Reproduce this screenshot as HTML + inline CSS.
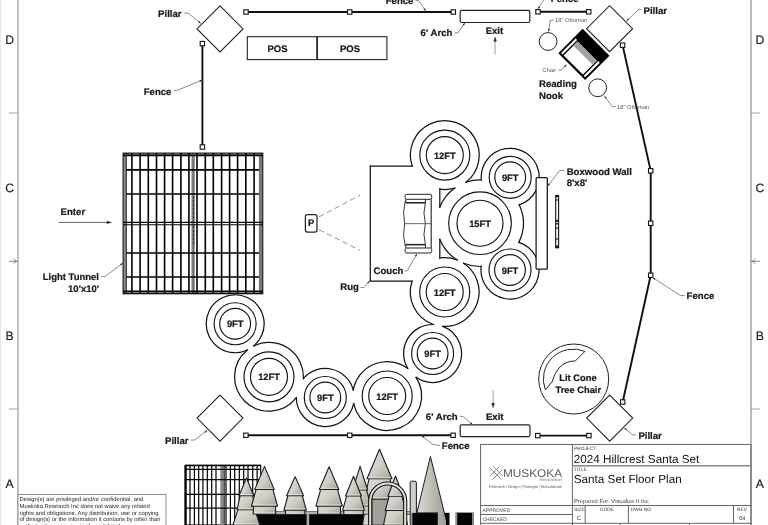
<!DOCTYPE html><html><head><meta charset="utf-8"><style>html,body{margin:0;padding:0;background:#fff;}svg{display:block;will-change:transform;}text{font-family:"Liberation Sans",sans-serif;text-rendering:geometricPrecision;}</style></head><body>
<svg width="768" height="525" viewBox="0 0 768 525">
<rect x="0" y="0" width="768" height="525" fill="#fff"/>
<rect x="0" y="0" width="1" height="525" fill="#e8e8e8"/>
<line x1="18" y1="0" x2="18" y2="525" stroke="#9a9a9a" stroke-width="1.2" />
<line x1="751" y1="0" x2="751" y2="525" stroke="#aaaaaa" stroke-width="1.6" />
<line x1="9" y1="113" x2="18" y2="113" stroke="#999" stroke-width="0.9" />
<line x1="751" y1="113" x2="760" y2="113" stroke="#999" stroke-width="0.9" />
<line x1="9" y1="409" x2="18" y2="409" stroke="#999" stroke-width="0.9" />
<line x1="751" y1="409" x2="760" y2="409" stroke="#999" stroke-width="0.9" />
<path d="M9,261.3 L18,261.3 M13.5,258.8 L16.5,261.3 L13.5,263.8" fill="none" stroke="#666" stroke-width="0.8"/>
<path d="M760,261.3 L751,261.3 M755.5,258.8 L752.5,261.3 L755.5,263.8" fill="none" stroke="#666" stroke-width="0.8"/>
<text x="9.6" y="43.75" font-size="12.2" font-weight="normal" text-anchor="middle" fill="#1a1a1a" stroke="#1a1a1a" stroke-width="0.15">D</text>
<text x="759.8" y="43.75" font-size="12.2" font-weight="normal" text-anchor="middle" fill="#1a1a1a" stroke="#1a1a1a" stroke-width="0.15">D</text>
<text x="9.6" y="191.75" font-size="12.2" font-weight="normal" text-anchor="middle" fill="#1a1a1a" stroke="#1a1a1a" stroke-width="0.15">C</text>
<text x="759.8" y="191.75" font-size="12.2" font-weight="normal" text-anchor="middle" fill="#1a1a1a" stroke="#1a1a1a" stroke-width="0.15">C</text>
<text x="9.6" y="339.75" font-size="12.2" font-weight="normal" text-anchor="middle" fill="#1a1a1a" stroke="#1a1a1a" stroke-width="0.15">B</text>
<text x="759.8" y="339.75" font-size="12.2" font-weight="normal" text-anchor="middle" fill="#1a1a1a" stroke="#1a1a1a" stroke-width="0.15">B</text>
<text x="9.6" y="487.75" font-size="12.2" font-weight="normal" text-anchor="middle" fill="#1a1a1a" stroke="#1a1a1a" stroke-width="0.15">A</text>
<text x="759.8" y="487.75" font-size="12.2" font-weight="normal" text-anchor="middle" fill="#1a1a1a" stroke="#1a1a1a" stroke-width="0.15">A</text>
<g stroke="#141414" stroke-width="1.24" fill="none" stroke-linecap="square">
<path d="M454.73,188.04 A34.4,34.4 0 0 1 439.79,189.13"/>
<path d="M412.20,166.09 A34.4,34.4 0 1 1 465.92,182.25"/>
<path d="M433.46,324.51 A34.4,34.4 0 0 1 412.04,281.21"/>
<path d="M439.81,257.95 A34.4,34.4 0 0 1 456.96,259.86"/>
<path d="M463.67,263.31 A34.4,34.4 0 0 1 442.79,326.35"/>
<path d="M481.23,266.48 A43.3,43.3 0 0 1 463.66,263.30"/>
<path d="M456.94,259.85 A43.3,43.3 0 0 1 439.80,239.30"/>
<path d="M439.80,207.10 A43.3,43.3 0 0 1 454.75,188.03"/>
<path d="M465.92,182.25 A43.3,43.3 0 0 1 481.30,179.92"/>
<path d="M519.22,204.85 A43.3,43.3 0 0 1 518.83,242.37"/>
<path d="M481.32,179.92 A29,29 0 1 1 519.22,204.86"/>
<path d="M518.83,242.38 A29,29 0 1 1 481.21,266.48"/>
<path d="M247.37,350.05 A29,29 0 1 1 253.86,345.91"/>
<path d="M296.30,397.73 A34.4,34.4 0 1 1 247.36,350.06"/>
<path d="M253.85,345.91 A34.4,34.4 0 0 1 303.36,378.56"/>
<path d="M353.65,403.59 A29,29 0 0 1 296.30,397.74"/>
<path d="M303.36,378.54 A29,29 0 0 1 353.32,390.03"/>
<path d="M353.32,390.04 A34.4,34.4 0 0 1 407.72,368.39"/>
<path d="M416.11,377.35 A34.4,34.4 0 1 1 353.65,403.61"/>
<path d="M407.71,368.38 A29,29 0 0 1 433.47,324.51"/>
<path d="M442.79,326.35 A29,29 0 1 1 416.10,377.35"/>
<line x1="370.30" y1="166.10" x2="412.21" y2="166.10"/>
<line x1="439.80" y1="189.18" x2="439.80" y2="207.13"/>
<line x1="439.80" y1="239.30" x2="439.80" y2="258.01"/>
<line x1="412.03" y1="281.20" x2="370.30" y2="281.20"/>
<line x1="370.30" y1="281.20" x2="370.30" y2="166.10"/>
</g>
<g stroke="#141414" stroke-width="1.15" fill="none">
<circle cx="444.8" cy="155.1" r="25.0"/>
<circle cx="444.8" cy="155.1" r="18.5"/>
<circle cx="444.7" cy="292.0" r="25.0"/>
<circle cx="444.7" cy="292.0" r="18.5"/>
<circle cx="480.0" cy="223.2" r="31.3"/>
<circle cx="480.0" cy="223.2" r="23"/>
<circle cx="510.2" cy="177.3" r="21"/>
<circle cx="510.2" cy="177.3" r="15.4"/>
<circle cx="510.0" cy="270.0" r="21"/>
<circle cx="510.0" cy="270.0" r="15.4"/>
<circle cx="235.15" cy="323.75" r="21"/>
<circle cx="235.15" cy="323.75" r="15.4"/>
<circle cx="269.0" cy="376.8" r="25.0"/>
<circle cx="269.0" cy="376.8" r="18.5"/>
<circle cx="325.3" cy="397.5" r="21"/>
<circle cx="325.3" cy="397.5" r="15.4"/>
<circle cx="387.2" cy="396.0" r="25.0"/>
<circle cx="387.2" cy="396.0" r="18.5"/>
<circle cx="432.6" cy="353.5" r="21"/>
<circle cx="432.6" cy="353.5" r="15.4"/>
</g>
<text x="444.8" y="158.6" font-size="9.3" font-weight="bold" text-anchor="middle" fill="#1a1a1a"  stroke="#1a1a1a" stroke-width="0.22">12FT</text>
<text x="444.7" y="295.5" font-size="9.3" font-weight="bold" text-anchor="middle" fill="#1a1a1a"  stroke="#1a1a1a" stroke-width="0.22">12FT</text>
<text x="480.0" y="226.7" font-size="9.3" font-weight="bold" text-anchor="middle" fill="#1a1a1a"  stroke="#1a1a1a" stroke-width="0.22">15FT</text>
<text x="510.2" y="180.8" font-size="9.3" font-weight="bold" text-anchor="middle" fill="#1a1a1a"  stroke="#1a1a1a" stroke-width="0.22">9FT</text>
<text x="510.0" y="273.5" font-size="9.3" font-weight="bold" text-anchor="middle" fill="#1a1a1a"  stroke="#1a1a1a" stroke-width="0.22">9FT</text>
<text x="235.15" y="327.25" font-size="9.3" font-weight="bold" text-anchor="middle" fill="#1a1a1a"  stroke="#1a1a1a" stroke-width="0.22">9FT</text>
<text x="269.0" y="380.3" font-size="9.3" font-weight="bold" text-anchor="middle" fill="#1a1a1a"  stroke="#1a1a1a" stroke-width="0.22">12FT</text>
<text x="325.3" y="401.0" font-size="9.3" font-weight="bold" text-anchor="middle" fill="#1a1a1a"  stroke="#1a1a1a" stroke-width="0.22">9FT</text>
<text x="387.2" y="399.5" font-size="9.3" font-weight="bold" text-anchor="middle" fill="#1a1a1a"  stroke="#1a1a1a" stroke-width="0.22">12FT</text>
<text x="432.6" y="357.0" font-size="9.3" font-weight="bold" text-anchor="middle" fill="#1a1a1a"  stroke="#1a1a1a" stroke-width="0.22">9FT</text>
<g fill="none" stroke="#222" stroke-width="1">
<rect x="405.1" y="194.3" width="26.6" height="5" rx="1.6" fill="#fff"/>
<path d="M405.8,199.3 L405.8,202.7 L425.4,202.7 L425.4,199.3" stroke-width="1"/>
<line x1="405.8" y1="202.7" x2="425.4" y2="202.7" stroke-width="1.4"/>
<rect x="405.1" y="248.0" width="26.6" height="5" rx="1.6" fill="#fff"/>
<path d="M405.8,248.0 L405.8,244.60000000000002 L425.4,244.60000000000002 L425.4,248.0" stroke-width="1"/>
<line x1="405.8" y1="244.60000000000002" x2="425.4" y2="244.60000000000002" stroke-width="1.4"/>
<line x1="431.2" y1="199.3" x2="431.2" y2="248.0" stroke-width="1.1"/>
<path d="M425.4,202.7 Q422.5,213 425.4,223.65 Q422.5,234.3 425.4,244.60000000000002" stroke-width="0.9"/>
<path d="M405.3,201 Q402.2,212 404.6,223.65 Q402.2,235.3 405.3,246.3" stroke-width="0.9"/>
<line x1="404.2" y1="223.65" x2="431" y2="223.65" stroke-width="0.8" stroke="#444"/>
</g>
<rect x="536.1" y="177.5" width="11.2" height="91.7" rx="1" fill="#fff" stroke="#151515" stroke-width="1.25"/>
<rect x="555.7" y="195.6" width="2.9" height="52.2" fill="#fff" stroke="#111" stroke-width="1.1"/>
<rect x="555.7" y="195.6" width="2.9" height="1.5999999999999943" fill="#111"/>
<rect x="555.7" y="199.5" width="2.9" height="1.0" fill="#111"/>
<rect x="555.7" y="219.8" width="2.9" height="2.0" fill="#111"/>
<rect x="555.7" y="223.2" width="2.9" height="1.200000000000017" fill="#111"/>
<rect x="555.7" y="227.5" width="2.9" height="1.0" fill="#111"/>
<rect x="555.7" y="238.5" width="2.9" height="1.0" fill="#111"/>
<rect x="555.7" y="245.5" width="2.9" height="2.3000000000000114" fill="#111"/>
<rect x="305.4" y="214.6" width="11.6" height="17.4" rx="2" fill="#fff" stroke="#222" stroke-width="1.25"/>
<text x="311.2" y="226.0" font-size="9.4" font-weight="bold" text-anchor="middle" fill="#1a1a1a"  stroke="#1a1a1a" stroke-width="0.22">P</text>
<path d="M319,216.9 L360.3,195 M319,229.7 L360.3,250.5" stroke="#8a8a8a" stroke-width="0.95" stroke-dasharray="5.5,3.3" fill="none"/>
<g>
<rect x="123.1" y="153.1" width="139.70000000000002" height="140.70000000000002" fill="#fff"/>
<rect x="123.3" y="153.1" width="3.0" height="140.70000000000002" fill="#8c8c8c"/>
<rect x="259.2" y="153.1" width="3.3" height="140.70000000000002" fill="#7a7a7a"/>
<rect x="191.4" y="153.1" width="3.5" height="140.70000000000002" fill="#8f8f8f"/>
<line x1="193.15" y1="153.1" x2="193.15" y2="293.8" stroke="#5a5a5a" stroke-width="0.8"/>
<rect x="123.1" y="153.4" width="139.70000000000002" height="2.4" fill="#555"/>
<line x1="131.9" y1="153.1" x2="131.9" y2="293.8" stroke="#000" stroke-width="1.6" />
<line x1="140.1" y1="153.1" x2="140.1" y2="293.8" stroke="#000" stroke-width="1.6" />
<line x1="148.3" y1="153.1" x2="148.3" y2="293.8" stroke="#000" stroke-width="1.6" />
<line x1="156.5" y1="153.1" x2="156.5" y2="293.8" stroke="#000" stroke-width="1.6" />
<line x1="164.6" y1="153.1" x2="164.6" y2="293.8" stroke="#000" stroke-width="1.6" />
<line x1="172.6" y1="153.1" x2="172.6" y2="293.8" stroke="#000" stroke-width="1.6" />
<line x1="180.9" y1="153.1" x2="180.9" y2="293.8" stroke="#000" stroke-width="1.6" />
<line x1="188.9" y1="153.1" x2="188.9" y2="293.8" stroke="#000" stroke-width="1.6" />
<line x1="197" y1="153.1" x2="197" y2="293.8" stroke="#000" stroke-width="1.6" />
<line x1="205.3" y1="153.1" x2="205.3" y2="293.8" stroke="#000" stroke-width="1.6" />
<line x1="213.3" y1="153.1" x2="213.3" y2="293.8" stroke="#000" stroke-width="1.6" />
<line x1="221.6" y1="153.1" x2="221.6" y2="293.8" stroke="#000" stroke-width="1.6" />
<line x1="229.6" y1="153.1" x2="229.6" y2="293.8" stroke="#000" stroke-width="1.6" />
<line x1="237.6" y1="153.1" x2="237.6" y2="293.8" stroke="#000" stroke-width="1.6" />
<line x1="245.8" y1="153.1" x2="245.8" y2="293.8" stroke="#000" stroke-width="1.6" />
<line x1="254.1" y1="153.1" x2="254.1" y2="293.8" stroke="#000" stroke-width="1.6" />
<line x1="126.3" y1="169.9" x2="259.2" y2="169.9" stroke="#000" stroke-width="1.6" />
<line x1="126.3" y1="194.0" x2="259.2" y2="194.0" stroke="#000" stroke-width="1.6" />
<line x1="126.3" y1="253.0" x2="259.2" y2="253.0" stroke="#000" stroke-width="1.6" />
<line x1="126.3" y1="277.0" x2="259.2" y2="277.0" stroke="#000" stroke-width="1.6" />
<line x1="123.1" y1="222.4" x2="262.8" y2="222.4" stroke="#000" stroke-width="1.1" />
<line x1="123.1" y1="224.8" x2="262.8" y2="224.8" stroke="#000" stroke-width="1.1" />
<line x1="123.1" y1="291.2" x2="262.8" y2="291.2" stroke="#000" stroke-width="1.4" />
<line x1="123.1" y1="293.2" x2="262.8" y2="293.2" stroke="#000" stroke-width="1.2" />
<line x1="123.1" y1="155.6" x2="262.8" y2="155.6" stroke="#000" stroke-width="1.4" />
<line x1="126.3" y1="153.1" x2="126.3" y2="293.8" stroke="#111" stroke-width="0.9" />
<line x1="259.3" y1="153.1" x2="259.3" y2="293.8" stroke="#555" stroke-width="0.6" />
<rect x="123.1" y="153.1" width="139.70000000000002" height="140.70000000000002" fill="none" stroke="#000" stroke-width="1"/>
<path d="M193.6,196 L193.6,221 M193.6,226 L193.6,246" stroke="#222" stroke-width="0.9" stroke-dasharray="2.5,1.5"/>
</g>
<path d="M246,12 L349.7,12 L453.3,12" fill="none" stroke="#111" stroke-width="1.9"/>
<rect x="243.8" y="9.8" width="4.4" height="4.4" fill="#fff" stroke="#111" stroke-width="1.1"/>
<rect x="347.5" y="9.8" width="4.4" height="4.4" fill="#fff" stroke="#111" stroke-width="1.1"/>
<rect x="451.1" y="9.8" width="4.4" height="4.4" fill="#fff" stroke="#111" stroke-width="1.1"/>
<path d="M538,11.8 L588.7,11.8" fill="none" stroke="#111" stroke-width="1.9"/>
<rect x="535.8" y="9.600000000000001" width="4.4" height="4.4" fill="#fff" stroke="#111" stroke-width="1.1"/>
<rect x="586.5" y="9.600000000000001" width="4.4" height="4.4" fill="#fff" stroke="#111" stroke-width="1.1"/>
<path d="M202.4,43.6 L202.4,147" fill="none" stroke="#111" stroke-width="1.9"/>
<rect x="200.20000000000002" y="41.4" width="4.4" height="4.4" fill="#fff" stroke="#111" stroke-width="1.1"/>
<rect x="200.20000000000002" y="144.8" width="4.4" height="4.4" fill="#fff" stroke="#111" stroke-width="1.1"/>
<path d="M622.6,45.2 L650.7,170.8 L650.7,275.3 L622.7,402" fill="none" stroke="#111" stroke-width="1.9"/>
<rect x="620.4" y="43.0" width="4.4" height="4.4" fill="#fff" stroke="#111" stroke-width="1.1"/>
<rect x="648.5" y="168.60000000000002" width="4.4" height="4.4" fill="#fff" stroke="#111" stroke-width="1.1"/>
<rect x="648.5" y="221.10000000000002" width="4.4" height="4.4" fill="#fff" stroke="#111" stroke-width="1.1"/>
<rect x="648.5" y="273.1" width="4.4" height="4.4" fill="#fff" stroke="#111" stroke-width="1.1"/>
<rect x="620.5" y="399.8" width="4.4" height="4.4" fill="#fff" stroke="#111" stroke-width="1.1"/>
<path d="M245.9,435.3 L349.7,435.3 L453.1,435.3" fill="none" stroke="#111" stroke-width="1.9"/>
<rect x="243.70000000000002" y="433.1" width="4.4" height="4.4" fill="#fff" stroke="#111" stroke-width="1.1"/>
<rect x="347.5" y="433.1" width="4.4" height="4.4" fill="#fff" stroke="#111" stroke-width="1.1"/>
<rect x="450.90000000000003" y="433.1" width="4.4" height="4.4" fill="#fff" stroke="#111" stroke-width="1.1"/>
<path d="M537.8,435.6 L588.9,435.6" fill="none" stroke="#111" stroke-width="1.9"/>
<rect x="535.5999999999999" y="433.40000000000003" width="4.4" height="4.4" fill="#fff" stroke="#111" stroke-width="1.1"/>
<rect x="586.6999999999999" y="433.40000000000003" width="4.4" height="4.4" fill="#fff" stroke="#111" stroke-width="1.1"/>
<path d="M220,5.899999999999999 L243,28.9 L220,51.9 L197,28.9 Z" fill="#fff" stroke="#262626" stroke-width="1.1"/>
<path d="M609.6,5.699999999999999 L632.6,28.7 L609.6,51.7 L586.6,28.7 Z" fill="#fff" stroke="#262626" stroke-width="1.1"/>
<path d="M220,395.1 L243,418.1 L220,441.1 L197,418.1 Z" fill="#fff" stroke="#262626" stroke-width="1.1"/>
<path d="M609.7,395.1 L632.7,418.1 L609.7,441.1 L586.7,418.1 Z" fill="#fff" stroke="#262626" stroke-width="1.1"/>
<rect x="247.3" y="36.7" width="139.6" height="22.9" fill="#fff" stroke="#222" stroke-width="1.1"/>
<line x1="317.1" y1="36.7" x2="317.1" y2="59.6" stroke="#111" stroke-width="1.6" />
<text x="277.5" y="52" font-size="9.5" font-weight="bold" text-anchor="middle" fill="#1a1a1a"  stroke="#1a1a1a" stroke-width="0.22">POS</text>
<text x="350" y="52" font-size="9.5" font-weight="bold" text-anchor="middle" fill="#1a1a1a"  stroke="#1a1a1a" stroke-width="0.22">POS</text>
<rect x="460.2" y="10.3" width="69.6" height="12.2" rx="1.5" fill="#fff" stroke="#222" stroke-width="1.2"/>
<rect x="460.2" y="424.8" width="69.8" height="11.8" rx="1.5" fill="#fff" stroke="#222" stroke-width="1.2"/>
<line x1="495.1" y1="54.5" x2="495.1" y2="40" stroke="#b0b0b0" stroke-width="1.2"/>
<path d="M493.8,41.2 L495.1,37.2 L496.4,41.2 Z" fill="#222" stroke="#222" stroke-width="0.5"/>
<line x1="493.1" y1="390" x2="493.1" y2="404" stroke="#b0b0b0" stroke-width="1.2"/>
<path d="M491.8,403.2 L493.1,407.5 L494.4,403.2 Z" fill="#222" stroke="#222" stroke-width="0.5"/>
<line x1="58.6" y1="222.4" x2="108" y2="222.4" stroke="#333" stroke-width="0.75"/>
<path d="M107,221.3 L111.3,222.4 L107,223.5 Z" fill="#111" stroke="#111" stroke-width="0.4"/>
<circle cx="548.1" cy="41.5" r="8.9" fill="#fff" stroke="#222" stroke-width="1"/>
<circle cx="597.7" cy="87.8" r="8.9" fill="#fff" stroke="#222" stroke-width="1"/>
<defs><pattern id="hatch" width="1.3" height="1.3" patternUnits="userSpaceOnUse"><rect width="1.3" height="1.3" fill="#c8c8c8"/><rect width="0.65" height="0.65" fill="#555"/><rect x="0.65" y="0.65" width="0.65" height="0.65" fill="#555"/></pattern></defs>
<g transform="translate(583.9,54.4) rotate(45)">
<rect x="-19" y="-17.2" width="38" height="34.4" fill="#000"/>
<rect x="-13.6" y="-4.6" width="27.2" height="19.6" fill="#fff"/>
<rect x="-13.6" y="-4.6" width="27.2" height="5.8" fill="#a2a2a2"/>
<rect x="-17.1" y="-5.4" width="2.2" height="20.6" fill="#fff"/>
<rect x="14.9" y="-5.4" width="2.2" height="20.6" fill="#fff"/>
</g>
<circle cx="573.7" cy="379" r="35" fill="#fff" stroke="#222" stroke-width="1"/>
<path d="M545.4,390 A30,30 0 0 1 584.9,351.4 L575.4,360.9 Q565,361 559,368 Q553.5,375 552.3,381.4 Z" fill="#fff" stroke="#222" stroke-width="1"/>
<text x="578" y="381.1" font-size="9.4" font-weight="bold" text-anchor="middle" fill="#1a1a1a"  stroke="#1a1a1a" stroke-width="0.22">Lit Cone</text>
<text x="578.3" y="392.6" font-size="9.3" font-weight="bold" text-anchor="middle" fill="#1a1a1a"  stroke="#1a1a1a" stroke-width="0.22">Tree Chair</text>
<text x="158.1" y="16.9" font-size="9.6" font-weight="bold" text-anchor="start" fill="#1a1a1a"  stroke="#1a1a1a" stroke-width="0.22">Pillar</text>
<path d="M184.1,13 L188,13 L200.8,23.4" fill="none" stroke="#777" stroke-width="0.85" stroke-linejoin="round"/>
<path d="M200.80,23.40 L198.06,22.33 L199.19,20.94 Z" fill="#222"/>
<text x="385.7" y="4.4" font-size="9.6" font-weight="bold" text-anchor="start" fill="#1a1a1a"  stroke="#1a1a1a" stroke-width="0.22">Fence</text>
<path d="M415.4,0.5 L418.5,0.5 L425.8,11" fill="none" stroke="#777" stroke-width="0.85" stroke-linejoin="round"/>
<path d="M425.80,11.00 L423.46,9.21 L424.94,8.19 Z" fill="#222"/>
<text x="420.6" y="35.9" font-size="9.6" font-weight="bold" text-anchor="start" fill="#1a1a1a"  stroke="#1a1a1a" stroke-width="0.22">6' Arch</text>
<path d="M454.5,32.8 L458,32.8 L465,22.6" fill="none" stroke="#777" stroke-width="0.85" stroke-linejoin="round"/>
<path d="M465.00,22.60 L464.16,25.42 L462.67,24.40 Z" fill="#222"/>
<text x="494.4" y="33.7" font-size="9.5" font-weight="bold" text-anchor="middle" fill="#1a1a1a"  stroke="#1a1a1a" stroke-width="0.22">Exit</text>
<text x="550.8" y="2.4" font-size="9.6" font-weight="bold" text-anchor="start" fill="#1a1a1a"  stroke="#1a1a1a" stroke-width="0.22">Fence</text>
<path d="M544.3,-1 L537.9,9" fill="none" stroke="#777" stroke-width="0.85" stroke-linejoin="round"/>
<path d="M537.90,9.00 L538.65,6.16 L540.17,7.13 Z" fill="#222"/>
<text x="643.5" y="13.5" font-size="9.6" font-weight="bold" text-anchor="start" fill="#1a1a1a"  stroke="#1a1a1a" stroke-width="0.22">Pillar</text>
<path d="M641.3,9.5 L638.6,9.5 L626.4,21.1" fill="none" stroke="#777" stroke-width="0.85" stroke-linejoin="round"/>
<path d="M626.40,21.10 L627.81,18.52 L629.05,19.82 Z" fill="#222"/>
<text x="143.7" y="94.7" font-size="9.6" font-weight="bold" text-anchor="start" fill="#1a1a1a"  stroke="#1a1a1a" stroke-width="0.22">Fence</text>
<path d="M173.8,90.5 L176.7,90.5 L202.4,80" fill="none" stroke="#777" stroke-width="0.85" stroke-linejoin="round"/>
<path d="M202.40,80.00 L200.15,81.89 L199.47,80.23 Z" fill="#222"/>
<text x="60.6" y="215.4" font-size="9.6" font-weight="bold" text-anchor="start" fill="#1a1a1a"  stroke="#1a1a1a" stroke-width="0.22">Enter</text>
<text x="99" y="279.6" font-size="9.5" font-weight="bold" text-anchor="end" fill="#1a1a1a"  stroke="#1a1a1a" stroke-width="0.22">Light Tunnel</text>
<text x="99" y="291.8" font-size="9.5" font-weight="bold" text-anchor="end" fill="#1a1a1a"  stroke="#1a1a1a" stroke-width="0.22">10'x10'</text>
<path d="M101,276.6 L105,276.6 L123,263" fill="none" stroke="#777" stroke-width="0.85" stroke-linejoin="round"/>
<path d="M123.00,263.00 L121.31,265.41 L120.22,263.97 Z" fill="#222"/>
<text x="340.3" y="289.5" font-size="9.6" font-weight="bold" text-anchor="start" fill="#1a1a1a"  stroke="#1a1a1a" stroke-width="0.22">Rug</text>
<path d="M360.3,287.5 L364,287.5 L369.7,280.9" fill="none" stroke="#777" stroke-width="0.85" stroke-linejoin="round"/>
<path d="M369.70,280.90 L368.55,283.61 L367.19,282.43 Z" fill="#222"/>
<text x="373.5" y="273.7" font-size="9.6" font-weight="bold" text-anchor="start" fill="#1a1a1a"  stroke="#1a1a1a" stroke-width="0.22">Couch</text>
<path d="M404.5,271 L407,271 L417,253.7" fill="none" stroke="#777" stroke-width="0.85" stroke-linejoin="round"/>
<path d="M417.00,253.70 L416.38,256.57 L414.82,255.67 Z" fill="#222"/>
<text x="566.7" y="174.6" font-size="9.6" font-weight="bold" text-anchor="start" fill="#1a1a1a"  stroke="#1a1a1a" stroke-width="0.22">Boxwood Wall</text>
<text x="566.7" y="186.4" font-size="9.6" font-weight="bold" text-anchor="start" fill="#1a1a1a"  stroke="#1a1a1a" stroke-width="0.22">8'x8'</text>
<path d="M564.6,170.4 L559.7,170.4 L547.8,186" fill="none" stroke="#777" stroke-width="0.85" stroke-linejoin="round"/>
<path d="M547.80,186.00 L548.78,183.23 L550.21,184.32 Z" fill="#222"/>
<text x="539" y="87.3" font-size="9.6" font-weight="bold" text-anchor="start" fill="#1a1a1a"  stroke="#1a1a1a" stroke-width="0.22">Reading</text>
<text x="539" y="98.8" font-size="9.6" font-weight="bold" text-anchor="start" fill="#1a1a1a"  stroke="#1a1a1a" stroke-width="0.22">Nook</text>
<text x="542.3" y="71.9" font-size="5.8" font-weight="normal" text-anchor="start" fill="#555" >Chair</text>
<path d="M558.3,70.2 L561,70.2 L566.6,64.7" fill="none" stroke="#777" stroke-width="0.85" stroke-linejoin="round"/>
<path d="M566.60,64.70 L565.23,67.30 L563.97,66.02 Z" fill="#222"/>
<text x="555" y="22.1" font-size="5.8" font-weight="normal" text-anchor="start" fill="#555" >18" Ottoman</text>
<path d="M553.8,20.2 L550.2,20.4 L548.6,31.6" fill="none" stroke="#777" stroke-width="0.85" stroke-linejoin="round"/>
<path d="M548.60,31.60 L548.11,28.70 L549.89,28.96 Z" fill="#222"/>
<text x="617" y="108.5" font-size="5.8" font-weight="normal" text-anchor="start" fill="#555" >18" Ottoman</text>
<path d="M616,106.6 L612.2,106.6 L604.4,95.9" fill="none" stroke="#777" stroke-width="0.85" stroke-linejoin="round"/>
<path d="M604.40,95.90 L606.78,97.63 L605.32,98.69 Z" fill="#222"/>
<text x="686.6" y="299.3" font-size="9.6" font-weight="bold" text-anchor="start" fill="#1a1a1a"  stroke="#1a1a1a" stroke-width="0.22">Fence</text>
<path d="M684.5,295.5 L680.5,295.5 L652.5,277.5" fill="none" stroke="#777" stroke-width="0.85" stroke-linejoin="round"/>
<path d="M652.50,277.50 L655.34,278.26 L654.37,279.77 Z" fill="#222"/>
<text x="638.4" y="438.6" font-size="9.6" font-weight="bold" text-anchor="start" fill="#1a1a1a"  stroke="#1a1a1a" stroke-width="0.22">Pillar</text>
<path d="M636,434.8 L632.6,434.8 L624.2,427.9" fill="none" stroke="#777" stroke-width="0.85" stroke-linejoin="round"/>
<path d="M624.20,427.90 L626.93,428.98 L625.79,430.37 Z" fill="#222"/>
<text x="165" y="444.1" font-size="9.6" font-weight="bold" text-anchor="start" fill="#1a1a1a"  stroke="#1a1a1a" stroke-width="0.22">Pillar</text>
<path d="M190.9,440 L194.8,440 L207.3,430.3" fill="none" stroke="#777" stroke-width="0.85" stroke-linejoin="round"/>
<path d="M207.30,430.30 L205.64,432.73 L204.54,431.31 Z" fill="#222"/>
<text x="425.8" y="419.9" font-size="9.6" font-weight="bold" text-anchor="start" fill="#1a1a1a"  stroke="#1a1a1a" stroke-width="0.22">6' Arch</text>
<path d="M459.8,416.4 L463.3,416.4 L472.7,424.8" fill="none" stroke="#777" stroke-width="0.85" stroke-linejoin="round"/>
<path d="M472.70,424.80 L470.01,423.61 L471.21,422.26 Z" fill="#222"/>
<text x="485.9" y="420" font-size="9.6" font-weight="bold" text-anchor="start" fill="#1a1a1a"  stroke="#1a1a1a" stroke-width="0.22">Exit</text>
<text x="441.8" y="449" font-size="9.6" font-weight="bold" text-anchor="start" fill="#1a1a1a"  stroke="#1a1a1a" stroke-width="0.22">Fence</text>
<path d="M440,445.7 L432,444 L421.7,435.6" fill="none" stroke="#777" stroke-width="0.85" stroke-linejoin="round"/>
<path d="M421.70,435.60 L424.44,436.67 L423.30,438.07 Z" fill="#222"/>
<defs><linearGradient id="tg" x1="0" y1="0" x2="1" y2="1"><stop offset="0" stop-color="#e4e2dc"/><stop offset="0.55" stop-color="#d0cdc5"/><stop offset="1" stop-color="#a3a098"/></linearGradient><linearGradient id="tg2" x1="0" y1="0" x2="1" y2="0"><stop offset="0" stop-color="#dcdad3"/><stop offset="1" stop-color="#9c9990"/></linearGradient><clipPath id="bclip"><rect x="0" y="440" width="480" height="85"/></clipPath></defs>
<g clip-path="url(#bclip)">
<rect x="185.1" y="465.4" width="75.6" height="59.60000000000002" fill="#fff" stroke="#111" stroke-width="1.2"/>
<line x1="186" y1="465.4" x2="186" y2="525" stroke="#000" stroke-width="1.2" />
<line x1="190" y1="465.4" x2="190" y2="525" stroke="#000" stroke-width="1.2" />
<line x1="194.4" y1="465.4" x2="194.4" y2="525" stroke="#000" stroke-width="1.2" />
<line x1="198.7" y1="465.4" x2="198.7" y2="525" stroke="#000" stroke-width="1.2" />
<line x1="202.9" y1="465.4" x2="202.9" y2="525" stroke="#000" stroke-width="1.2" />
<line x1="207.3" y1="465.4" x2="207.3" y2="525" stroke="#000" stroke-width="1.2" />
<line x1="211.7" y1="465.4" x2="211.7" y2="525" stroke="#000" stroke-width="1.2" />
<line x1="216" y1="465.4" x2="216" y2="525" stroke="#000" stroke-width="1.2" />
<line x1="226" y1="465.4" x2="226" y2="525" stroke="#000" stroke-width="1.2" />
<line x1="230.4" y1="465.4" x2="230.4" y2="525" stroke="#000" stroke-width="1.2" />
<line x1="234.7" y1="465.4" x2="234.7" y2="525" stroke="#000" stroke-width="1.2" />
<line x1="239.3" y1="465.4" x2="239.3" y2="525" stroke="#000" stroke-width="1.2" />
<line x1="243.7" y1="465.4" x2="243.7" y2="525" stroke="#000" stroke-width="1.2" />
<line x1="248" y1="465.4" x2="248" y2="525" stroke="#000" stroke-width="1.2" />
<line x1="252.7" y1="465.4" x2="252.7" y2="525" stroke="#000" stroke-width="1.2" />
<line x1="257.1" y1="465.4" x2="257.1" y2="525" stroke="#000" stroke-width="1.2" />
<rect x="220.3" y="465.4" width="4.7" height="59.60000000000002" fill="#8a8a8a"/>
<line x1="224.3" y1="465.4" x2="224.3" y2="525" stroke="#444" stroke-width="1.0" />
<line x1="185.1" y1="469.3" x2="260.7" y2="469.3" stroke="#000" stroke-width="1.2" />
<line x1="185.1" y1="479.6" x2="260.7" y2="479.6" stroke="#000" stroke-width="1.2" />
<line x1="185.1" y1="494.4" x2="260.7" y2="494.4" stroke="#000" stroke-width="1.2" />
<line x1="185.1" y1="508.1" x2="260.7" y2="508.1" stroke="#000" stroke-width="1.2" />
<line x1="185.1" y1="465.6" x2="260.7" y2="465.6" stroke="#000" stroke-width="1.5" />
<line x1="185.5" y1="465.4" x2="185.5" y2="525" stroke="#000" stroke-width="1.6" />
<rect x="252.5" y="511.5" width="160" height="3" fill="#b8b6b0" stroke="#333" stroke-width="0.6"/>
<rect x="252.5" y="514.3" width="115" height="12" fill="#050505"/>
<rect x="306.6" y="512" width="2.6" height="14" fill="#aaa"/>
<path d="M369.62,478.69 L389.38,478.69 L396.50,525 L362.50,525 Z" fill="url(#tg)" stroke="#1a1a1a" stroke-width="1.1" stroke-linejoin="round"/>
<line x1="363.70" y1="524.0" x2="395.30" y2="524.0" stroke="#f2f1ed" stroke-width="0.8"/>
<path d="M370.55,471.83 L388.45,471.83 L394.50,499 L364.50,499 Z" fill="url(#tg)" stroke="#1a1a1a" stroke-width="1.1" stroke-linejoin="round"/>
<line x1="365.70" y1="498.0" x2="393.30" y2="498.0" stroke="#f2f1ed" stroke-width="0.8"/>
<path d="M379.5,449.30 L392.00,478.8 L367.00,478.8 Z" fill="url(#tg)" stroke="#1a1a1a" stroke-width="1.1" stroke-linejoin="round"/>
<line x1="368.20" y1="477.8" x2="390.80" y2="477.8" stroke="#f2f1ed" stroke-width="0.8"/>
<path d="M350.14,504.44 L370.06,504.44 L370.30,514 L349.90,514 Z" fill="url(#tg)" stroke="#1a1a1a" stroke-width="1.1" stroke-linejoin="round"/>
<line x1="351.10" y1="513.0" x2="369.10" y2="513.0" stroke="#f2f1ed" stroke-width="0.8"/>
<path d="M356.80,478.64 L363.40,478.64 L371.10,506 L349.10,506 Z" fill="url(#tg)" stroke="#1a1a1a" stroke-width="1.1" stroke-linejoin="round"/>
<line x1="350.30" y1="505.0" x2="369.90" y2="505.0" stroke="#f2f1ed" stroke-width="0.8"/>
<path d="M360.1,466.30 L367.60,490 L352.60,490 Z" fill="url(#tg)" stroke="#1a1a1a" stroke-width="1.1" stroke-linejoin="round"/>
<line x1="353.80" y1="489.0" x2="366.40" y2="489.0" stroke="#f2f1ed" stroke-width="0.8"/>
<path d="M238.06,509.30 L254.74,509.30 L259.90,525 L232.90,525 Z" fill="url(#tg)" stroke="#1a1a1a" stroke-width="1.1" stroke-linejoin="round"/>
<line x1="234.10" y1="524.0" x2="258.70" y2="524.0" stroke="#f2f1ed" stroke-width="0.8"/>
<path d="M240.62,493.24 L252.18,493.24 L255.70,509.8 L237.10,509.8 Z" fill="url(#tg)" stroke="#1a1a1a" stroke-width="1.1" stroke-linejoin="round"/>
<line x1="238.30" y1="508.8" x2="254.50" y2="508.8" stroke="#f2f1ed" stroke-width="0.8"/>
<path d="M246.4,477.90 L253.80,495.7 L239.00,495.7 Z" fill="url(#tg)" stroke="#1a1a1a" stroke-width="1.1" stroke-linejoin="round"/>
<line x1="240.20" y1="494.7" x2="252.60" y2="494.7" stroke="#f2f1ed" stroke-width="0.8"/>
<path d="M253.73,500.01 L275.27,500.01 L275.80,514 L253.20,514 Z" fill="url(#tg)" stroke="#1a1a1a" stroke-width="1.1" stroke-linejoin="round"/>
<line x1="254.40" y1="513.0" x2="274.60" y2="513.0" stroke="#f2f1ed" stroke-width="0.8"/>
<path d="M257.70,483.94 L271.30,483.94 L277.60,506.1 L251.40,506.1 Z" fill="url(#tg)" stroke="#1a1a1a" stroke-width="1.1" stroke-linejoin="round"/>
<line x1="252.60" y1="505.1" x2="276.40" y2="505.1" stroke="#f2f1ed" stroke-width="0.8"/>
<path d="M264.5,466.40 L274.20,489.4 L254.80,489.4 Z" fill="url(#tg)" stroke="#1a1a1a" stroke-width="1.1" stroke-linejoin="round"/>
<line x1="256.00" y1="488.4" x2="273.00" y2="488.4" stroke="#f2f1ed" stroke-width="0.8"/>
<path d="M285.48,506.56 L304.72,506.56 L304.90,514.3 L285.30,514.3 Z" fill="url(#tg)" stroke="#1a1a1a" stroke-width="1.1" stroke-linejoin="round"/>
<line x1="286.50" y1="513.3" x2="303.70" y2="513.3" stroke="#f2f1ed" stroke-width="0.8"/>
<path d="M289.06,491.51 L301.14,491.51 L306.30,510.1 L283.90,510.1 Z" fill="url(#tg)" stroke="#1a1a1a" stroke-width="1.1" stroke-linejoin="round"/>
<line x1="285.10" y1="509.1" x2="305.10" y2="509.1" stroke="#f2f1ed" stroke-width="0.8"/>
<path d="M295.1,476.60 L303.60,495.7 L286.60,495.7 Z" fill="url(#tg)" stroke="#1a1a1a" stroke-width="1.1" stroke-linejoin="round"/>
<line x1="287.80" y1="494.7" x2="302.40" y2="494.7" stroke="#f2f1ed" stroke-width="0.8"/>
<path d="M317.93,501.14 L340.27,501.14 L340.60,514 L317.60,514 Z" fill="url(#tg)" stroke="#1a1a1a" stroke-width="1.1" stroke-linejoin="round"/>
<line x1="318.80" y1="513.0" x2="339.40" y2="513.0" stroke="#f2f1ed" stroke-width="0.8"/>
<path d="M322.14,484.40 L336.06,484.40 L342.30,506.1 L315.90,506.1 Z" fill="url(#tg)" stroke="#1a1a1a" stroke-width="1.1" stroke-linejoin="round"/>
<line x1="317.10" y1="505.1" x2="341.10" y2="505.1" stroke="#f2f1ed" stroke-width="0.8"/>
<path d="M329.1,466.70 L338.80,489.4 L319.40,489.4 Z" fill="url(#tg)" stroke="#1a1a1a" stroke-width="1.1" stroke-linejoin="round"/>
<line x1="320.60" y1="488.4" x2="337.60" y2="488.4" stroke="#f2f1ed" stroke-width="0.8"/>
<path d="M343.86,507.93 L363.14,507.93 L363.30,514.3 L343.70,514.3 Z" fill="url(#tg)" stroke="#1a1a1a" stroke-width="1.1" stroke-linejoin="round"/>
<line x1="344.90" y1="513.3" x2="362.10" y2="513.3" stroke="#f2f1ed" stroke-width="0.8"/>
<path d="M348.01,491.47 L358.99,491.47 L364.40,510.2 L342.60,510.2 Z" fill="url(#tg)" stroke="#1a1a1a" stroke-width="1.1" stroke-linejoin="round"/>
<line x1="343.80" y1="509.2" x2="363.20" y2="509.2" stroke="#f2f1ed" stroke-width="0.8"/>
<path d="M353.5,476.20 L361.40,496 L345.60,496 Z" fill="url(#tg)" stroke="#1a1a1a" stroke-width="1.1" stroke-linejoin="round"/>
<line x1="346.80" y1="495.0" x2="360.20" y2="495.0" stroke="#f2f1ed" stroke-width="0.8"/>
<path d="M372,499.4 L398,499.4 L398,525 L372,525 Z" fill="#a3a098" stroke="#222" stroke-width="0.8"/>
<path d="M388.48,500.74 L402.52,500.74 L407.50,525 L383.50,525 Z" fill="url(#tg)" stroke="#1a1a1a" stroke-width="1.1" stroke-linejoin="round"/>
<line x1="384.70" y1="524.0" x2="406.30" y2="524.0" stroke="#f2f1ed" stroke-width="0.8"/>
<path d="M390.46,491.10 L400.54,491.10 L405.70,510.4 L385.30,510.4 Z" fill="url(#tg)" stroke="#1a1a1a" stroke-width="1.1" stroke-linejoin="round"/>
<line x1="386.50" y1="509.4" x2="404.50" y2="509.4" stroke="#f2f1ed" stroke-width="0.8"/>
<path d="M392.79,483.50 L398.21,483.50 L403.10,496.2 L387.90,496.2 Z" fill="url(#tg)" stroke="#1a1a1a" stroke-width="1.1" stroke-linejoin="round"/>
<line x1="389.10" y1="495.2" x2="401.90" y2="495.2" stroke="#f2f1ed" stroke-width="0.8"/>
<path d="M395.5,476.30 L398.70,484 L392.30,484 Z" fill="url(#tg)" stroke="#1a1a1a" stroke-width="1.1" stroke-linejoin="round"/>
<line x1="393.50" y1="483.0" x2="397.50" y2="483.0" stroke="#f2f1ed" stroke-width="0.8"/>
<path d="M370.2,527 L370.2,501 A17.5,17.5 0 0 1 405.2,501 L405.2,527" fill="none" stroke="#151515" stroke-width="4.2"/>
<path d="M370.2,527 L370.2,501 A17.5,17.5 0 0 1 405.2,501 L405.2,527" fill="none" stroke="#e4e2dc" stroke-width="2.0"/>
<rect x="410.2" y="481.2" width="6.2" height="44" rx="1.5" fill="#d0cec8" stroke="#1a1a1a" stroke-width="1"/>
<rect x="411" y="512.9" width="38.3" height="13" fill="#050505"/>
<path d="M430.4,456.4 L447.9,527 L438,527 L438,512.9 L416.9,512.9 Z" fill="url(#tg2)" stroke="#1a1a1a" stroke-width="1"/>
<rect x="437.8" y="512.9" width="2.2" height="13" fill="#aaa"/>
<rect x="446" y="512.9" width="3.3" height="13" fill="#050505"/>
<rect x="411" y="512.9" width="1.4" height="13" fill="#999"/>
<rect x="455.7" y="512.6" width="17.9" height="13" fill="#050505"/>
<rect x="455.7" y="512.6" width="1.5" height="13" fill="#999"/><rect x="472.1" y="512.6" width="1.5" height="13" fill="#999"/>
</g>
<g fill="none" stroke="#555" stroke-width="0.9">
<rect x="480.6" y="444.4" width="270.4" height="90"/>
<line x1="572.4" y1="444.4" x2="572.4" y2="525"/>
<line x1="572.4" y1="465.8" x2="751" y2="465.8" stroke-width="1.6" stroke="#888"/>
<line x1="480.6" y1="505.5" x2="751" y2="505.5"/>
<line x1="480.6" y1="514.5" x2="572.4" y2="514.5"/>
<line x1="480.6" y1="523.3" x2="751" y2="523.3"/>
<line x1="585.2" y1="505.5" x2="585.2" y2="523.3"/>
<line x1="628.4" y1="505.5" x2="628.4" y2="523.3"/>
<line x1="733.5" y1="505.5" x2="733.5" y2="523.3"/>
<line x1="620.1" y1="523.3" x2="620.1" y2="525"/><line x1="689.5" y1="523.3" x2="689.5" y2="525"/>
</g>
<text x="574" y="449.8" font-size="4.8" font-weight="normal" text-anchor="start" fill="#333" >PROJECT</text>
<text x="573.8" y="462.8" font-size="11.7" font-weight="normal" text-anchor="start" fill="#111" >2024 Hillcrest Santa Set</text>
<text x="574" y="471.3" font-size="4.8" font-weight="normal" text-anchor="start" fill="#333" >TITLE</text>
<text x="573.8" y="483" font-size="11.7" font-weight="normal" text-anchor="start" fill="#111" >Santa Set Floor Plan</text>
<text x="574" y="503.2" font-size="5.8" font-weight="normal" text-anchor="start" fill="#444" >Prepared For: Visualize It Inc.</text>
<text x="574" y="511" font-size="4.8" font-weight="normal" text-anchor="start" fill="#333" >SIZE</text>
<text x="607" y="511" font-size="4.8" font-weight="normal" text-anchor="middle" fill="#333" >CODE</text>
<text x="630.8" y="511" font-size="4.8" font-weight="normal" text-anchor="start" fill="#333" >DWG NO</text>
<text x="742" y="511" font-size="4.8" font-weight="normal" text-anchor="middle" fill="#333" >REV</text>
<text x="579" y="519.9" font-size="6.2" font-weight="normal" text-anchor="middle" fill="#333" >C</text>
<text x="742.3" y="519.9" font-size="5.6" font-weight="normal" text-anchor="middle" fill="#333" >04</text>
<text x="482.5" y="511.9" font-size="5" font-weight="normal" text-anchor="start" fill="#444" >APPROVED</text>
<text x="482.5" y="520.8" font-size="5" font-weight="normal" text-anchor="start" fill="#444" >CHECKED</text>
<g stroke="#666" stroke-width="0.75" fill="none">
<path d="M489.2,467.2 L501.5,479.5 M493,466.2 L502.8,476 M492,480 L502.5,469.5 M489.6,476.4 L499.3,466.7"/>
</g>
<text x="503" y="476.8" font-size="11.2" font-weight="normal" text-anchor="start" fill="#5a5a5a" textLength="59" lengthAdjust="spacingAndGlyphs">MUSKOKA</text>
<text x="562" y="481.2" font-size="3.2" font-weight="normal" text-anchor="end" fill="#666" textLength="22.5" lengthAdjust="spacingAndGlyphs">RESEARCH</text>
<text x="489" y="487.5" font-size="4" font-weight="normal" text-anchor="start" fill="#555" textLength="73" lengthAdjust="spacingAndGlyphs">Research | Design | Prototype | Manufacture</text>
<rect x="18" y="494.4" width="148" height="40" fill="#fff" stroke="#777" stroke-width="0.8"/>
<text x="19.6" y="501.0" font-size="5.84" font-weight="normal" text-anchor="start" fill="#222" >Design(s) are privileged and/or confidential, and</text>
<text x="19.6" y="507.75" font-size="5.84" font-weight="normal" text-anchor="start" fill="#222" >Muskoka Research Inc does not waive any related</text>
<text x="19.6" y="514.5" font-size="5.84" font-weight="normal" text-anchor="start" fill="#222" >rights and obligations. Any distribution, use or copying</text>
<text x="19.6" y="521.25" font-size="5.84" font-weight="normal" text-anchor="start" fill="#222" >of design(s) or the information it contains by other than</text>
<text x="19.6" y="528.0" font-size="5.84" font-weight="normal" text-anchor="start" fill="#222" >authorized persons is strictly prohibited.</text>
</svg></body></html>
